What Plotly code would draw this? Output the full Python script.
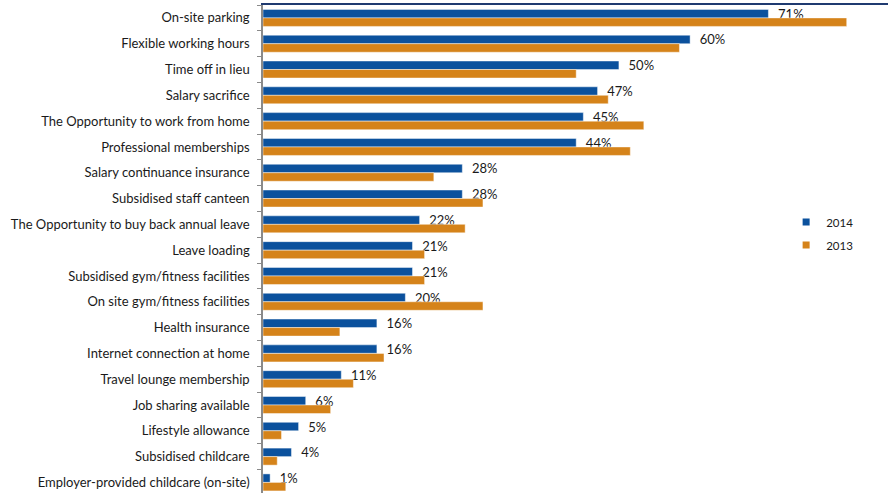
import plotly.graph_objects as go

# Employee benefits offered, share of respondents (%)
benefits = [
    "On-site parking",
    "Flexible working hours",
    "Time off in lieu",
    "Salary sacrifice",
    "The Opportunity to work from home",
    "Professional memberships",
    "Salary continuance insurance",
    "Subsidised staff canteen",
    "The Opportunity to buy back annual leave",
    "Leave loading",
    "Subsidised gym/fitness facilities",
    "On site gym/fitness facilities",
    "Health insurance",
    "Internet connection at home",
    "Travel lounge membership",
    "Job sharing available",
    "Lifestyle allowance",
    "Subsidised childcare",
    "Employer-provided childcare (on-site)",
]
values_2014 = [71, 60, 50, 47, 45, 44, 28, 28, 22, 21, 21, 20, 16, 16, 11, 6, 5, 4, 1]
values_2013 = [82, 58.5, 44, 48.5, 53.5, 51.6, 24, 30.9, 28.4, 22.7, 22.7, 30.9,
               10.8, 17, 12.7, 9.5, 2.6, 2, 3.2]

BLUE = "#0B519D"
ORANGE = "#D5831A"
FONT = "Lato"
TEXT = "#1a1a1a"

fig = go.Figure()

fig.add_trace(go.Bar(
    y=benefits, x=values_2014, orientation="h", name="2014",
    marker=dict(color=BLUE, line=dict(color="rgba(255,255,255,0.45)", width=1)),
    text=["  %d%%" % v for v in values_2014],
    textposition="outside", constraintext="none", cliponaxis=False,
    textfont=dict(family=FONT, size=13, color=TEXT),
    showlegend=False, hoverinfo="x+y",
))
fig.add_trace(go.Bar(
    y=benefits, x=values_2013, orientation="h", name="2013",
    marker=dict(color=ORANGE, line=dict(color="rgba(255,255,255,0.45)", width=1)),
    showlegend=False, hoverinfo="x+y",
))

# small square swatches for the legend
for name, col in [("2014", BLUE), ("2013", ORANGE)]:
    fig.add_trace(go.Scatter(
        x=[None], y=[None], mode="markers", name=name, legendgroup=name,
        marker=dict(symbol="square", size=7, color=col),
        showlegend=True,
    ))

fig.update_layout(
    width=888, height=493,
    margin=dict(l=263, r=0, t=5, b=0),
    paper_bgcolor="white", plot_bgcolor="white",
    barmode="group", bargap=0.34, bargroupgap=0,
    font=dict(family=FONT, color=TEXT),
    showlegend=True,
    legend=dict(
        x=0.837, y=0.585, xanchor="left", yanchor="top",
        font=dict(family=FONT, size=11.5, color=TEXT),
        traceorder="grouped", tracegroupgap=4,
        bgcolor="rgba(0,0,0,0)", itemwidth=30,
    ),
)

fig.update_xaxes(
    range=[0, 87.8], side="top", showticklabels=False, showgrid=False,
    zeroline=False, showline=True, linecolor="#1F3A70", linewidth=2,
    ticks="",
)
fig.update_yaxes(
    categoryorder="array", categoryarray=benefits,
    range=[18.41, -0.5], showgrid=False, zeroline=False,
    showline=True, linecolor="#8A8A8A", linewidth=1.5,
    ticks="outside", ticklen=4, tickcolor="#8A8A8A", tickson="boundaries",
    tickfont=dict(family=FONT, size=13, color=TEXT),
    ticklabelstandoff=9,
)

fig.write_html("out.html")
